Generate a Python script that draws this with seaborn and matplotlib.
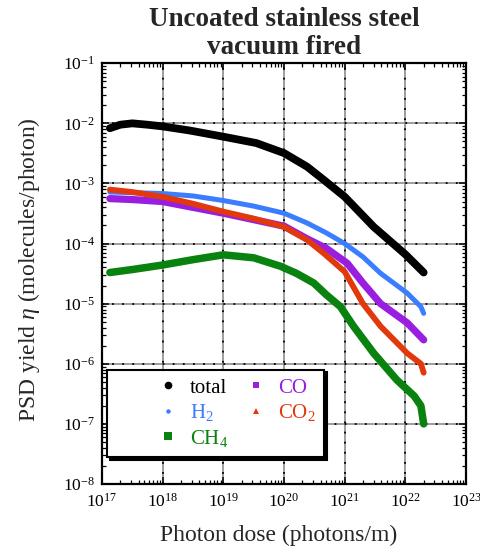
import numpy as np
import pandas as pd
import matplotlib
matplotlib.use("Agg")
import matplotlib.pyplot as plt
from matplotlib.lines import Line2D
from matplotlib.ticker import LogLocator, LogFormatterSciNotation, NullFormatter
import seaborn as sns

# ---------------- data ----------------
total_dose = [1.35e17, 2.0e17, 3.16e17, 5.6e17, 1e18, 2.8e18, 1e19, 3.5e19, 1e20,
              2.4e20, 4.5e20, 1e21, 3e21, 1e22, 2e22]
total_eta = [8.3e-3, 9.5e-3, 1.0e-2, 9.5e-3, 8.9e-3, 7.6e-3, 6.0e-3, 4.7e-3, 3.2e-3,
             1.9e-3, 1.15e-3, 6.0e-4, 1.9e-4, 6.6e-5, 3.3e-5]

h2_dose = [1.35e17, 1e18, 3.16e18, 1e19, 3.16e19, 1e20, 2.4e20, 5e20, 1e21, 2e21,
           3.9e21, 1.07e22, 1.8e22, 2e22]
h2_eta = [7.2e-4, 6.8e-4, 6.2e-4, 5.2e-4, 4.2e-4, 3.2e-4, 2.2e-4, 1.5e-4, 1.0e-4,
          6.0e-5, 3.2e-5, 1.5e-5, 8.9e-6, 6.9e-6]

co2_dose = [1.35e17, 3.16e17, 1e18, 3.16e18, 1e19, 3.16e19, 1e20, 2.4e20, 4.5e20,
            1e21, 2e21, 3.9e21, 1.07e22, 1.8e22, 2e22]
co2_eta = [7.9e-4, 7.2e-4, 6.0e-4, 4.6e-4, 3.4e-4, 2.6e-4, 1.9e-4, 1.15e-4, 6.9e-5,
           3.4e-5, 1.0e-5, 4.2e-6, 1.5e-6, 1.0e-6, 7.1e-7]

co_dose = [1.35e17, 3.16e17, 1e18, 3.16e18, 1e19, 3.16e19, 1e20, 2.4e20, 5e20,
           1.1e21, 2e21, 3.9e21, 1.07e22, 2e22]
co_eta = [5.6e-4, 5.4e-4, 5.0e-4, 4.0e-4, 3.2e-4, 2.5e-4, 1.95e-4, 1.2e-4, 8.3e-5,
          4.7e-5, 2.2e-5, 1.0e-5, 4.8e-6, 2.5e-6]

ch4_dose = [1.35e17, 3.16e17, 1e18, 3.16e18, 1e19, 3.16e19, 8.7e19, 1.6e20, 3.1e20,
            5e20, 8.5e20, 1.4e21, 3e21, 7.2e21, 1.4e22, 1.8e22, 2e22]
ch4_eta = [3.3e-5, 3.7e-5, 4.4e-5, 5.4e-5, 6.5e-5, 5.8e-5, 4.2e-5, 3.2e-5, 2.2e-5,
           1.4e-5, 8.9e-6, 4.2e-6, 1.5e-6, 5.4e-7, 2.9e-7, 2.0e-7, 1.0e-7]

series_names = ["total", "H$_2$", "CH$_4$", "CO", "CO$_2$"]
title_text = "Uncoated stainless steel\nvacuum fired"
xlabel_text = "Photon dose (photons/m)"
ylabel_text = r"PSD yield $\eta$ (molecules/photon)"

# ---------------- style ----------------
sns.set_theme(style="white")
plt.rcParams["font.family"] = ["Liberation Serif", "DejaVu Serif"]
plt.rcParams["mathtext.fontset"] = "custom"
plt.rcParams["mathtext.rm"] = "Liberation Serif"
plt.rcParams["mathtext.it"] = "Liberation Serif:italic"
plt.rcParams["mathtext.bf"] = "Liberation Serif:bold"

colors = {"total": "#000000", "H2": "#3b7dff", "CH4": "#0a820f",
          "CO": "#9a1ee0", "CO2": "#e2390c"}

fig = plt.figure(figsize=(4.81, 5.5), dpi=100)
ax = fig.add_axes([0.212, 0.12, 0.757, 0.765])

frames = {
    "total": (total_dose, total_eta, 5.6),
    "H2": (h2_dose, h2_eta, 3.6),
    "CO2": (co2_dose, co2_eta, 4.2),
    "CO": (co_dose, co_eta, 5.2),
    "CH4": (ch4_dose, ch4_eta, 5.4),
}
order = ["total", "H2", "CO", "CO2", "CH4"]
for key in order:
    xs, ys, lw = frames[key]
    df = pd.DataFrame({"dose": xs, "eta": ys})
    sns.lineplot(data=df, x="dose", y="eta", ax=ax, color=colors[key],
                 linewidth=lw, solid_capstyle="round", solid_joinstyle="round",
                 zorder=3)

ax.set_xscale("log")
ax.set_yscale("log")
ax.set_xlim(1e17, 1e23)
ax.set_ylim(1e-8, 1e-1)

ax.xaxis.set_major_locator(LogLocator(base=10, numticks=20))
ax.yaxis.set_major_locator(LogLocator(base=10, numticks=20))
ax.xaxis.set_minor_locator(LogLocator(base=10, subs=np.arange(2, 10), numticks=50))
ax.yaxis.set_minor_locator(LogLocator(base=10, subs=np.arange(2, 10), numticks=50))
ax.xaxis.set_minor_formatter(NullFormatter())
ax.yaxis.set_minor_formatter(NullFormatter())
ax.xaxis.set_major_formatter(LogFormatterSciNotation())
ax.yaxis.set_major_formatter(LogFormatterSciNotation())

ax.tick_params(which="both", direction="in", top=True, right=True,
               bottom=True, left=True, colors="black", labelsize=12.5)
ax.tick_params(which="major", length=5, width=1.1)
ax.tick_params(which="minor", length=2.8, width=0.9)
ax.tick_params(axis="x", pad=6)
ax.tick_params(axis="y", pad=5)

ax.grid(True, which="major", color="#8c8c8c", linewidth=1.2, zorder=1)
for t in ax.get_xticks():
    if 1e17 < t < 1e23:
        ax.axvline(t, color="black", lw=1.3, ls=(0, (1.0, 4.6)), zorder=1.5)
for t in ax.get_yticks():
    if 1e-8 < t < 1e-1:
        ax.axhline(t, color="black", lw=1.3, ls=(0, (1.0, 4.6)), zorder=1.5)
ax.set_axisbelow(True)

for s in ax.spines.values():
    s.set_color("black")
    s.set_linewidth(1.6)
    s.set_visible(True)

ax.set_xlabel(xlabel_text, fontsize=17, va="top")
ax.xaxis.set_label_coords(0.485, -0.098)
ax.set_ylabel(ylabel_text, fontsize=17)
ax.yaxis.set_label_coords(-0.165, 0.51)
ax.set_title(title_text, fontsize=19.5, fontweight="bold", linespacing=1.12, pad=7)

# legend
legend_keys = ["total", "H2", "CH4", "CO", "CO2"]
markers = {"total": "o", "H2": "o", "CH4": "s", "CO": "s", "CO2": "^"}
msizes = {"total": 5.5, "H2": 3.2, "CH4": 5.5, "CO": 4.8, "CO2": 4.8}
handles = [Line2D([], [], ls="none", marker=markers[k], markersize=msizes[k],
                  color=colors[k], markeredgewidth=0) for k in legend_keys]
leg = ax.legend(handles, series_names, ncol=2, loc="lower left",
                bbox_to_anchor=(0.0137, 0.064), fontsize=15, frameon=True,
                fancybox=False, shadow={"color": "black", "alpha": 1.0, "ox": 2.0, "oy": -2.0},
                handlelength=5.07, handletextpad=-1.48, columnspacing=-1.2,
                labelspacing=0.22, borderpad=0.4, borderaxespad=0.0, numpoints=1,
                labelcolor=[colors[k] for k in legend_keys])
leg.get_frame().set_edgecolor("black")
leg.get_frame().set_linewidth(1.5)
leg.get_frame().set_facecolor("white")
leg.set_zorder(5)

fig.savefig("out.png", dpi=100)
